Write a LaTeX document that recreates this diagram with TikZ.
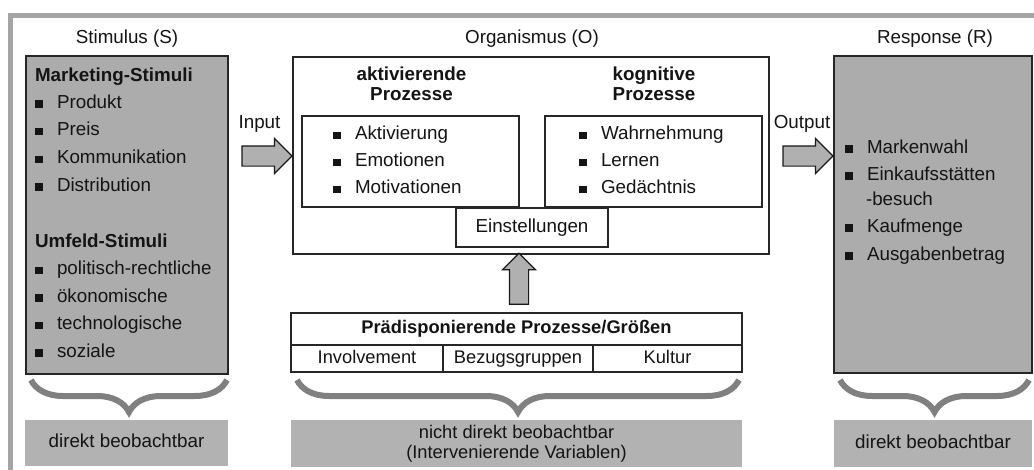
\documentclass[tikz,border=0pt]{standalone}
\usepackage{fontspec}
\setmainfont{Liberation Sans}
\usepackage{xcolor}
\usetikzlibrary{shapes.arrows,decorations.pathreplacing,calc,positioning}

\definecolor{boxgray}{RGB}{172,172,172}
\definecolor{footgray}{RGB}{178,178,178}
\definecolor{bracegray}{RGB}{128,128,128}
\definecolor{framegray}{RGB}{165,165,165}
\definecolor{arrowgray}{RGB}{176,176,176}
\definecolor{txt}{RGB}{20,20,20}

\newcommand{\blt}{\rule[0.5pt]{7.5pt}{7.5pt}\hspace{14.5pt}}

\begin{document}
\begin{tikzpicture}[x=1pt,y=-1pt,
    every node/.style={font=\fontsize{18.8}{20}\selectfont, text=txt, inner sep=0pt, outer sep=0pt},
    box/.style={draw=black!85, line width=1.6pt, anchor=north west},
    cell/.style={box, text height=13.3pt, text depth=3.9pt},
    foot/.style={fill=footgray, anchor=north west},
    item/.style={anchor=base west},
    head/.style={anchor=base west, font=\fontsize{18.8}{20}\selectfont\bfseries},
    bhead/.style={anchor=base, font=\fontsize{18.8}{20}\selectfont\bfseries},
    blockarrow/.style={single arrow, draw=black!90, fill=arrowgray, line width=1.2pt,
        inner sep=9.5pt, minimum height=50pt, single arrow head extend=7.5pt},
    curly/.style={draw=bracegray, line width=6pt, decorate,
        decoration={brace, mirror, amplitude=32pt}}]
    \clip (0,0) rectangle (1034,469);

    % Frame
    \draw[framegray, line width=5pt] (10.5,480) |- (1045,15.5);

    % Column titles
    \node[anchor=base] (stimT) at (127,43) {Stimulus (S)};
    \node[anchor=base] (orgT) at (532,43) {Organismus (O)};
    \node[anchor=base] (respT) at (935,43) {Response (R)};

    % Stimulus
    \node[box, fill=boxgray, minimum width=202pt, minimum height=318pt] (stim) at (26,56) {};
    \node[head] (mktT) at (35,81) {Marketing-Stimuli};
    \foreach \t [count=\i] in {Produkt,Preis,Kommunikation,Distribution}
        \node[item] (mkt\i) at (35,80.5+27.7*\i) {\blt\t};
    \node[head] (umfT) at (35,247) {Umfeld-Stimuli};
    \foreach \t [count=\i] in {politisch-rechtliche,ökonomische,technologische,soziale}
        \node[item] (umf\i) at (35,247+27.5*\i) {\blt\t};

    % Organismus
    \node[box, minimum width=476pt, minimum height=197pt] (org) at (293,57) {};
    \node[bhead] (aktT1) at (411.5,80) {aktivierende};
    \node[bhead] (aktT2) at (411.5,100) {Prozesse};
    \node[bhead] (kogT1) at (654,80) {kognitive};
    \node[bhead] (kogT2) at (654,100) {Prozesse};
    \node[box, minimum width=217pt, minimum height=91pt] (akt) at (302,116) {};
    \node[box, minimum width=217pt, minimum height=91pt] (kog) at (545,116) {};
    \foreach \t [count=\i] in {Aktivierung,Emotionen,Motivationen}
        \node[item] (akt\i) at (333,112.5+27*\i) {\blt\t};
    \foreach \t [count=\i] in {Wahrnehmung,Lernen,Gedächtnis}
        \node[item] (kog\i) at (579,112.5+27*\i) {\blt\t};
    \node[cell, fill=white, minimum width=152pt, minimum height=39pt] (einst) at (456,208) {Einstellungen};

    % Praedisponierende Groessen
    \node[cell, minimum width=451pt, minimum height=32pt, font=\fontsize{18.3}{20}\selectfont\bfseries] (praed) at (291,313) {Prädisponierende Prozesse/Größen};
    \node[cell, minimum width=152pt, minimum height=27pt, font=\fontsize{18.3}{20}\selectfont] (inv) at (praed.south west) {Involvement};
    \node[cell, minimum width=150pt, minimum height=27pt, font=\fontsize{18.3}{20}\selectfont] (bez) at (inv.north east) {Bezugsgruppen};
    \node[cell, minimum width=149pt, minimum height=27pt, font=\fontsize{18.3}{20}\selectfont] (kul) at (bez.north east) {Kultur};

    % Response
    \node[box, fill=boxgray, minimum width=198pt, minimum height=317pt] (resp) at (834,56) {};
    \node[item] (rsp1) at (845,153) {\blt Markenwahl};
    \node[item] (rsp2) at (845,180) {\blt Einkaufsstätten};
    \node[item] (rsp2b) at (866,205) {-besuch};
    \node[item] (rsp3) at (845,232) {\blt Kaufmenge};
    \node[item] (rsp4) at (845,260) {\blt Ausgabenbetrag};

    % Block arrows
    \node[anchor=base] (inT) at (259.5,128) {Input};
    \node[blockarrow] (inA) at (262,156) {};
    \node[anchor=base] (outT) at (802,128) {Output};
    \node[blockarrow] (outA) at (803,156) {};
    \node[blockarrow, shape border rotate=90, inner sep=9pt, minimum height=51pt, single arrow head extend=7pt] (upA) at (519,283.5) {};

    % Braces
    \draw[curly] ($(stim.south west)+(5,6)$) -- ($(stim.south east)+(-1,6)$);
    \draw[curly] ($(inv.south west)+(6,8)$) -- ($(kul.south east)+(-3,8)$);
    \draw[curly] ($(resp.south west)+(6,7)$) -- ($(resp.south east)+(-3,7)$);

    % Observability
    \node[foot, minimum width=203pt, minimum height=46pt, text height=13.3pt, text depth=3.9pt] (obsS) at (25,420) {direkt beobachtbar};
    \node[foot, minimum width=451pt, minimum height=47pt, align=center, font=\fontsize{18.3}{20}\selectfont] (obsO) at (291,420) {nicht direkt beobachtbar\\(Intervenierende Variablen)};
    \node[foot, minimum width=198pt, minimum height=47pt, text height=13.3pt, text depth=3.9pt] (obsR) at (834,420) {direkt beobachtbar};
\end{tikzpicture}
\end{document}
